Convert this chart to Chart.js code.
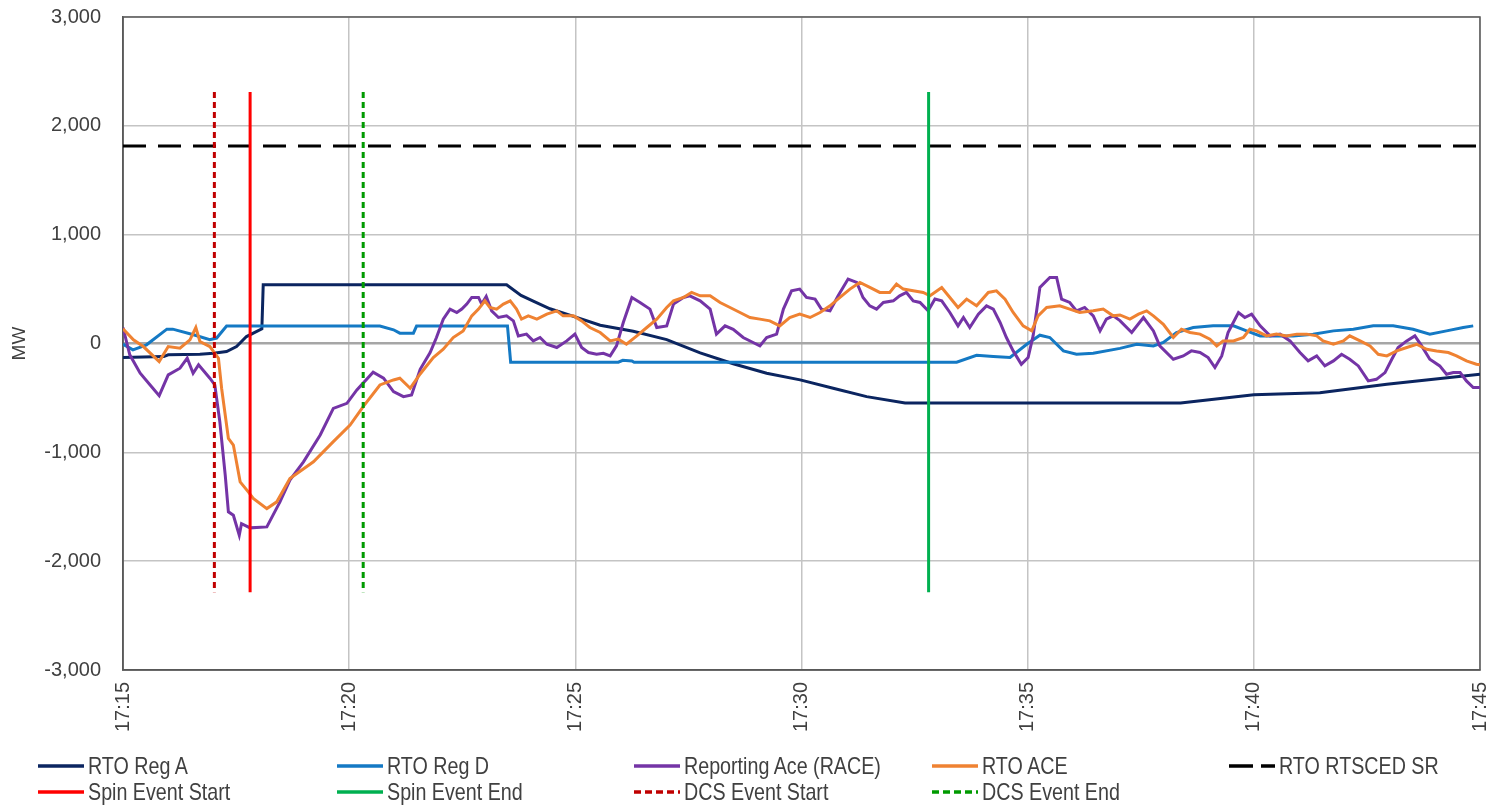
<!DOCTYPE html>
<html>
<head>
<meta charset="utf-8">
<script src="https://cdn.jsdelivr.net/npm/chart.js@4"></script>
<style>
  html, body { margin: 0; padding: 0; background: #fff; }
  #wrap { position: relative; width: 1497px; height: 805px; }
  #legend { position: absolute; left: 0; top: 0; width: 1497px; height: 805px; pointer-events: none;
    font-family: "Liberation Sans", Arial, sans-serif; font-size: 24px; color: #404040; }
  .item { position: absolute; display: flex; align-items: center; white-space: nowrap; height: 26px; }
  .item svg { margin-right: 4px; }
  .item span { display: inline-block; transform: scaleX(0.82); transform-origin: left center; }
</style>
</head>
<body>
<div id="wrap">
  <canvas id="chart" width="1497" height="805"></canvas>
  <div id="legend"></div>
</div>
<script>
// ===============================
// DATA (minutes after 17:15, MW)
// ===============================
const tickMinutes = [0, 5, 10, 15, 20, 25, 30];
const startHour = 17, startMinute = 15;

const regAMin = [0, 0.9, 1.0, 1.7, 2.0, 2.29, 2.51, 2.73, 3.07, 3.1, 8.48, 8.8, 9.07, 9.44, 9.81, 10.55, 11.28, 12.02, 12.76, 13.49, 14.23, 14.97, 15.7, 16.44, 17.29, 23.38, 25.0, 26.46, 27.94, 30];
const regAMW  = [-128, -120, -104, -98, -89, -74, -28, 64, 135, 540, 540, 442, 390, 319, 270, 168, 112, 36, -86, -186, -273, -334, -411, -488, -547, -547, -470, -452, -375, -283];

const regDMin = [0, 0.22, 0.52, 0.97, 1.1, 1.56, 1.92, 2.07, 2.29, 5.68, 5.98, 6.12, 6.42, 6.49, 8.5, 8.57, 10.95, 11.05, 11.25, 11.3, 18.43, 18.87, 19.24, 19.61, 19.98, 20.27, 20.49, 20.79, 21.08, 21.45, 22.04, 22.41, 22.78, 23.0, 23.29, 23.66, 24.1, 24.55, 24.84, 25.14, 25.87, 26.31, 26.76, 27.2, 27.64, 28.08, 28.52, 28.89, 29.26, 29.63, 29.85];
const regDMW  = [-6, -58, -12, 132, 132, 80, 34, 50, 160, 160, 126, 95, 95, 160, 160, -172, -172, -155, -160, -172, -172, -108, -120, -129, -7, 76, 55, -68, -99, -90, -45, -7, -22, 9, 101, 147, 162, 162, 116, 70, 70, 86, 116, 131, 162, 162, 131, 86, 116, 147, 162];

const raceMin = [0, 0.15, 0.38, 0.6, 0.8, 1.0, 1.26, 1.42, 1.55, 1.67, 1.92, 2.03, 2.14, 2.26, 2.33, 2.44, 2.57, 2.62, 2.81, 3.18, 3.47, 3.69, 3.99, 4.36, 4.65, 4.95, 5.17, 5.53, 5.76, 5.98, 6.2, 6.38,
  6.57, 6.79, 6.93, 7.08, 7.23, 7.38, 7.49, 7.6, 7.71, 7.86, 7.93, 8.03, 8.15, 8.3, 8.48, 8.63, 8.74, 8.92, 9.07, 9.22, 9.37, 9.59, 9.81, 9.99, 10.14, 10.29, 10.47, 10.62, 10.77, 10.91, 11.06, 11.25, 11.43, 11.65, 11.8, 12.02, 12.17, 12.39, 12.53, 12.76, 12.98, 13.12, 13.31, 13.49, 13.71, 13.93,
  14.08, 14.23, 14.45, 14.6, 14.78, 14.96, 15.11, 15.3, 15.44, 15.63, 15.81, 16.03, 16.22, 16.36, 16.51, 16.66, 16.81, 17.03, 17.17, 17.32, 17.47, 17.62, 17.8, 17.95, 18.1, 18.28, 18.46, 18.58, 18.72, 18.91, 19.09, 19.24, 19.39, 19.53, 19.68, 19.86, 20.01, 20.12, 20.27, 20.49, 20.64, 20.75, 20.93, 21.08, 21.26, 21.45, 21.6, 21.74, 21.89,
  22.04, 22.3, 22.56, 22.78, 22.92, 23.22, 23.44, 23.62, 23.81, 23.99, 24.14, 24.29, 24.43, 24.66, 24.8, 24.95, 25.14, 25.36, 25.58, 25.8, 26.02, 26.2, 26.39, 26.57, 26.76, 26.94, 27.12, 27.31, 27.53, 27.71, 27.9, 28.05, 28.19, 28.38, 28.56, 28.71, 28.89, 29.11, 29.26, 29.41, 29.56, 29.7, 29.85, 30];
const raceMW  = [147, -104, -273, -381, -479, -288, -227, -135, -273, -196, -319, -381, -718, -1209, -1547, -1578, -1762, -1655, -1694, -1685, -1455, -1255, -1087, -841, -596, -550, -427, -264, -319, -442, -488, -473,
  -237, -83, 55, 224, 316, 285, 316, 362, 423, 423, 362, 432, 300, 239, 254, 208, 70, 86, 24, 55, -7, -37, 24, 86, -37, -83, -99, -90, -114, -22, 193, 423, 377, 316, 147, 162, 362, 423, 438, 392, 316, 86, 162, 131, 55, 9,
  -22, 55, 86, 316, 484, 500, 423, 408, 316, 300, 438, 592, 561, 423, 346, 316, 377, 392, 438, 469, 392, 377, 300, 408, 392, 285, 162, 239, 147, 270, 346, 316, 193, 55, -68, -191, -129, 70, 515, 607, 607, 408, 377, 300, 331, 254, 116, 224, 254,
  210, 101, 239, 116, -22, -145, -114, -68, -83, -129, -221, -114, 101, 285, 239, 270, 162, 70, 86, 24, -83, -160, -114, -206, -160, -99, -145, -206, -344, -329, -267, -145, -37, 24, 70, -22, -145, -206, -283, -267, -267, -344, -405, -405];

const aceMin = [0, 0.23, 0.45, 0.8, 1.0, 1.26, 1.48, 1.61, 1.7, 1.92, 2.11, 2.18, 2.33, 2.44, 2.59, 2.77, 2.88, 3.18, 3.4, 3.69, 4.21, 4.65, 5.02, 5.31, 5.68, 5.98, 6.12, 6.35,
  6.57, 6.86, 7.08, 7.3, 7.52, 7.71, 7.86, 8.0, 8.11, 8.26, 8.41, 8.56, 8.7, 8.81, 8.96, 9.15, 9.37, 9.59, 9.73, 9.96, 10.14, 10.32, 10.55, 10.77, 10.95, 11.13, 11.36, 11.58, 11.8, 12.02, 12.17, 12.39, 12.57, 12.76, 12.98, 13.2, 13.42, 13.64, 13.86,
  14.08, 14.3, 14.52, 14.74, 14.96, 15.19, 15.41, 15.63, 15.85, 16.07, 16.29, 16.51, 16.73, 16.95, 17.1, 17.25, 17.47, 17.69, 17.84, 18.1, 18.28, 18.46, 18.65, 18.87, 19.13, 19.31, 19.5, 19.68, 19.9, 20.09, 20.23, 20.42, 20.71, 20.93, 21.15, 21.45, 21.67, 21.89,
  22.04, 22.26, 22.45, 22.63, 22.78, 23.0, 23.22, 23.4, 23.59, 23.81, 24.03, 24.18, 24.32, 24.55, 24.77, 24.91, 25.06, 25.28, 25.5, 25.72, 25.95, 26.17, 26.39, 26.53, 26.76, 26.98, 27.12, 27.35, 27.57, 27.75, 27.94, 28.16, 28.38, 28.6, 28.82, 29.04, 29.3, 29.48, 29.7, 29.92, 30];
const aceMW  = [135, 34, -28, -166, -28, -43, 34, 147, 18, -28, -135, -411, -872, -933, -1271, -1363, -1424, -1517, -1455, -1240, -1087, -902, -749, -580, -381, -335, -319, -411,
  -280, -129, -53, 55, 116, 254, 316, 392, 331, 316, 362, 392, 316, 224, 254, 224, 270, 300, 254, 254, 208, 147, 101, 24, 40, -7, 70, 147, 224, 331, 392, 423, 469, 438, 438, 377, 331, 285, 239,
  224, 208, 162, 239, 270, 239, 285, 346, 423, 500, 561, 515, 469, 469, 546, 500, 484, 469, 438, 515, 423, 331, 408, 346, 469, 484, 408, 285, 162, 116, 254, 331, 346, 316, 285, 300, 316, 254,
  262, 224, 270, 300, 254, 177, 55, 131, 101, 86, 40, -22, 24, 24, 55, 131, 116, 70, 86, 70, 86, 86, 70, 24, -7, 24, 70, 24, -22, -99, -114, -68, -37, -7, -53, -68, -83, -114, -160, -191, -196];

const srMin = [0, 30];
const srMW  = [1815, 1815];

// event markers: time of event, line drawn between these two levels
const eventTop = 2310, eventBottom = -2285;
const spinStartMin = 2.81;
const spinEndMin   = 17.81;
const dcsStartMin  = 2.02;
const dcsEndMin    = 5.31;

// ===============================
// HELPERS
// ===============================
function toPoints(xs, ys) {
  return xs.map((x, i) => ({ x: x, y: ys[i] }));
}

function eventPoints(m) {
  return [{ x: m, y: eventTop }, { x: m, y: eventBottom }];
}

function fmtTime(m) {
  const total = startHour * 60 + startMinute + m;
  const h = Math.floor(total / 60);
  const mm = total % 60;
  return h + ":" + String(mm).padStart(2, "0");
}

// ===============================
// SERIES
// ===============================
const series = [
  { label: "RTO Reg A",            color: "#0B2560", dash: [],       data: toPoints(regAMin, regAMW) },
  { label: "RTO Reg D",            color: "#1479C4", dash: [],       data: toPoints(regDMin, regDMW) },
  { label: "Reporting Ace (RACE)", color: "#7434A6", dash: [],       data: toPoints(raceMin, raceMW) },
  { label: "RTO ACE",              color: "#EF8232", dash: [],       data: toPoints(aceMin, aceMW) },
  { label: "RTO RTSCED SR",        color: "#000000", dash: [23, 12], data: toPoints(srMin, srMW) },
  { label: "Spin Event Start",     color: "#FF0000", dash: [],       data: eventPoints(spinStartMin) },
  { label: "Spin Event End",       color: "#00B050", dash: [],       data: eventPoints(spinEndMin) },
  { label: "DCS Event Start",      color: "#C00000", dash: [6, 4],   data: eventPoints(dcsStartMin) },
  { label: "DCS Event End",        color: "#009A00", dash: [6, 4],   data: eventPoints(dcsEndMin) }
];

const sans = "'Liberation Sans', Arial, sans-serif";

// plot frame on all four sides
const framePlugin = {
  id: "frame",
  beforeDatasetsDraw(chart) {
    const { ctx, chartArea: a } = chart;
    ctx.save();
    ctx.strokeStyle = "#595959";
    ctx.lineWidth = 1.5;
    ctx.strokeRect(a.left, a.top, a.right - a.left, a.bottom - a.top);
    ctx.restore();
  }
};

new Chart(document.getElementById("chart"), {
  type: "line",
  data: {
    datasets: series.map((s, i) => ({
      label: s.label,
      data: s.data,
      borderColor: s.color,
      backgroundColor: s.color,
      borderDash: s.dash,
      borderWidth: 3,
      pointRadius: 0,
      tension: 0,
      fill: false,
      order: series.length - i
    }))
  },
  options: {
    responsive: false,
    animation: false,
    layout: { padding: { top: 17, right: 17, left: 0, bottom: 0 } },
    plugins: { legend: { display: false }, tooltip: { enabled: false } },
    scales: {
      x: {
        type: "linear",
        min: 0,
        max: 30,
        afterBuildTicks: s => { s.ticks = tickMinutes.map(v => ({ value: v })); },
        afterFit: s => { s.height = 135; s.paddingLeft = 0; s.paddingRight = 0; },
        ticks: {
          minRotation: 90,
          maxRotation: 90,
          padding: 12,
          color: "#404040",
          font: { family: sans, size: 20 },
          callback: v => fmtTime(v)
        },
        grid: { color: "#c4c4c4", lineWidth: 1.5, drawTicks: false },
        border: { color: "#595959", width: 1.5 }
      },
      y: {
        min: -3000,
        max: 3000,
        afterFit: s => { s.width = 123; s.paddingTop = 0; s.paddingBottom = 0; },
        ticks: {
          stepSize: 1000,
          padding: 22,
          color: "#404040",
          font: { family: sans, size: 20 },
          callback: v => Number(v).toLocaleString("en-US")
        },
        title: {
          display: true,
          text: "MW",
          color: "#404040",
          padding: { top: 8, bottom: 4 },
          font: { family: sans, size: 19 }
        },
        grid: {
          color: c => (c.tick && c.tick.value === 0 ? "#a6a6a6" : "#c4c4c4"),
          lineWidth: c => (c.tick && c.tick.value === 0 ? 2.5 : 1.5),
          drawTicks: false
        },
        border: { color: "#595959", width: 1.5 }
      }
    }
  },
  plugins: [framePlugin]
});

// ===============================
// LEGEND (5 columns, 2 rows)
// ===============================
const legendEl = document.getElementById("legend");
const colLeft = [38, 337, 634, 932, 1229];
const rowTop = [753, 779];

series.forEach((s, i) => {
  const row = i < 5 ? 0 : 1;
  const col = i < 5 ? i : i - 5;
  const item = document.createElement("div");
  item.className = "item";
  item.style.left = colLeft[col] + "px";
  item.style.top = rowTop[row] + "px";
  const dash = s.dash.length ? ` stroke-dasharray="${s.label === "RTO RTSCED SR" ? "24 8" : "7 4"}"` : "";
  item.innerHTML =
    `<svg width="46" height="6"><line x1="0" y1="3" x2="46" y2="3" stroke="${s.color}" stroke-width="3.5"${dash}/></svg>` +
    `<span>${s.label}</span>`;
  legendEl.appendChild(item);
});
</script>
</body>
</html>
